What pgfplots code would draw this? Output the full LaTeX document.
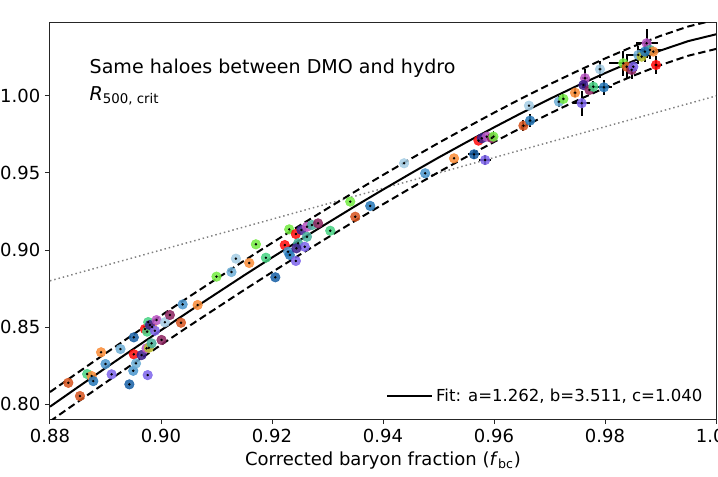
\documentclass[border=0pt]{standalone}
\usepackage{fontspec}
\setmainfont{DejaVu Sans}
\usepackage{pgfplots}
\usepackage{pgfplotstable}
\pgfplotsset{compat=1.18}

\definecolor{cdor}{RGB}{214,84,30}
\definecolor{cor}{RGB}{250,140,55}
\definecolor{cmint}{RGB}{70,210,130}
\definecolor{cblue}{RGB}{38,120,185}
\definecolor{cmbl}{RGB}{75,150,205}
\definecolor{clbl}{RGB}{110,175,215}
\definecolor{cpbl}{RGB}{165,205,228}
\definecolor{cdbl}{RGB}{22,95,165}
\definecolor{cpur}{RGB}{125,100,235}
\definecolor{cind}{RGB}{60,30,140}
\definecolor{cred}{RGB}{255,10,10}
\definecolor{cmag}{RGB}{185,85,195}
\definecolor{cmar}{RGB}{140,35,95}
\definecolor{cteal}{RGB}{70,175,155}
\definecolor{clime}{RGB}{115,235,65}
\definecolor{colv}{RGB}{185,190,45}

% haloes: corrected baryon fraction, radius ratio, errors, colour class
\pgfplotstableread{
x y ex ey c
0.8833 0.8138 0 0 dor
0.8854 0.8052 0 0 dor
0.8867 0.8195 0 0 mint
0.8875 0.8182 0 0 or
0.8878 0.8149 0 0 blue
0.8892 0.8336 0 0 or
0.8900 0.8260 0 0 mbl
0.8911 0.8193 0 0 pur
0.8927 0.8357 0 0 lbl
0.8943 0.8128 0 0 dbl
0.8950 0.8216 0 0 mbl
0.8951 0.8433 0 0 dbl
0.8951 0.8323 0 0 red
0.8955 0.8264 0 0 lbl
0.8965 0.8318 0 0 ind
0.8974 0.8362 0 0 mag
0.8976 0.8188 0 0 pur
0.8971 0.8487 0 0 red
0.8977 0.8532 0 0 mint
0.8984 0.8500 0 0 or
0.8978 0.8365 0 0 olv
0.8975 0.8470 0 0 mint
0.8980 0.8513 0 0 ind
0.8983 0.8394 0 0 teal
0.8989 0.8476 0 0 pur
0.8992 0.8545 0 0 mag
0.9001 0.8416 0 0 mar
0.9007 0.8531 0 0 pbl
0.9016 0.8578 0 0 mar
0.9039 0.8647 0 0 mbl
0.9066 0.8643 0 0 or
0.9036 0.8528 0 0 dor
0.9100 0.8827 0 0 lime
0.9127 0.8857 0 0 lbl
0.9135 0.8944 0 0 pbl
0.9159 0.8916 0 0 or
0.9171 0.9037 0 0 lime
0.9189 0.8950 0 0 mint
0.9206 0.8823 0 0 dbl
0.9223 0.9032 0 0 red
0.9231 0.9134 0 0 lime
0.9229 0.8989 0 0 mbl
0.9232 0.8968 0 0 blue
0.9243 0.9104 0 0 red
0.9243 0.8929 0 0 pur
0.9247 0.9044 0 0 teal
0.9253 0.9130 0 0 ind
0.9259 0.9021 0 0 pur
0.9244 0.9011 0 0 ind
0.9263 0.9086 0 0 teal
0.9263 0.9151 0 0 mag
0.9272 0.9162 0 0 teal
0.9283 0.9173 0 0 mar
0.9305 0.9125 0 0 mint
0.9341 0.9314 0 0 lime
0.9377 0.9286 0 0 blue
0.9350 0.9216 0 0 dor
0.9438 0.9563 0 0 pbl
0.9476 0.9498 0 0 mbl
0.9528 0.9595 0 0 or
0.9564 0.9621 0.0010 0.0030 dbl
0.9584 0.9584 0.0011 0.0030 pur
0.9572 0.9710 0 0 red
0.9578 0.9725 0 0 ind
0.9587 0.9736 0 0 mag
0.9596 0.9727 0 0 mar
0.9599 0.9736 0.0003 0.0035 lime
0.9653 0.9807 0.0004 0.0035 dor
0.9665 0.9840 0.0004 0.0040 blue
0.9663 0.9937 0 0 pbl
0.9717 0.9963 0.0003 0.0035 lbl
0.9725 0.9981 0.0003 0.0030 lime
0.9746 1.0021 0.0003 0.0030 or
0.9758 0.9953 0.0015 0.0080 pur
0.9764 1.0115 0.0005 0.0060 mag
0.9761 1.0071 0 0 ind
0.9772 1.0039 0 0 mar
0.9779 1.0060 0.0020 0.0040 mint
0.9791 1.0173 0.0004 0.0055 pbl
0.9798 1.0056 0.0015 0.0050 blue
0.9833 1.0212 0.0025 0.0080 lime
0.9839 1.0190 0.0010 0.0080 dor
0.9848 1.0169 0.0010 0.0060 mar
0.9851 1.0190 0 0 pur
0.9860 1.0266 0.0020 0.0060 lbl
0.9866 1.0255 0 0 olv
0.9875 1.0342 0.0020 0.0095 mag
0.9881 1.0299 0.0020 0.0060 teal
0.9887 1.0288 0 0 or
0.9892 1.0201 0.0003 0.0060 red
0.9872 1.0288 0.0015 0.0070 blue
}\halos

% fit curve with its upper and lower band
\pgfplotstableread{
x fit up lo
0.880 0.7983 0.8078 0.7888
0.885 0.8109 0.8204 0.8014
0.890 0.8234 0.8329 0.8139
0.895 0.8357 0.8452 0.8262
0.900 0.8479 0.8574 0.8384
0.905 0.8600 0.8695 0.8505
0.910 0.8718 0.8813 0.8623
0.915 0.8836 0.8931 0.8741
0.920 0.8951 0.9046 0.8856
0.925 0.9064 0.9159 0.8969
0.930 0.9175 0.9270 0.9080
0.935 0.9285 0.9380 0.9190
0.940 0.9392 0.9487 0.9297
0.945 0.9497 0.9592 0.9402
0.950 0.9600 0.9695 0.9505
0.955 0.9699 0.9794 0.9604
0.960 0.9796 0.9891 0.9701
0.965 0.9890 0.9985 0.9795
0.970 0.9980 1.0075 0.9885
0.975 1.0066 1.0161 0.9971
0.980 1.0148 1.0243 1.0053
0.985 1.0225 1.0320 1.0130
0.990 1.0295 1.0390 1.0200
0.995 1.0356 1.0451 1.0261
1.000 1.0400 1.0495 1.0305
}\fitcurve

\begin{document}
\begin{tikzpicture}
\begin{axis}[
  scale only axis,
  width=499.5pt, height=297.75pt,
  xmin=0.88, xmax=1.0, ymin=0.7903, ymax=1.048,
  xtick={0.88,0.90,0.92,0.94,0.96,0.98,1.00},
  ytick={0.80,0.85,0.90,0.95,1.00,1.05},
  xticklabel style={/pgf/number format/fixed, /pgf/number format/fixed zerofill, /pgf/number format/precision=2},
  yticklabel style={/pgf/number format/fixed, /pgf/number format/fixed zerofill, /pgf/number format/precision=2},
  /pgf/number format/assume math mode=true,
  tick label style={font=\fontsize{13.5}{16}\selectfont},
  label style={font=\fontsize{13.5}{16}\selectfont},
  tick align=outside, tick pos=left,
  major tick length=3.75pt,
  axis line style={line width=0.75pt, black!85},
  every tick/.style={line width=0.75pt, black!85},
  xlabel={Corrected baryon fraction (\textit{f}\textsubscript{bc})},
  legend cell align=left,
  legend style={at={(rel axis cs:0.99,0.025)}, anchor=south east, draw=none, fill=none,
    font=\fontsize{12.4}{15}\selectfont},
  legend image code/.code={\draw[#1] (0pt,0pt) -- (34pt,0pt);},
]
\addplot[gray, line width=1.1pt, dash pattern=on 1.1pt off 2.2pt, forget plot]
  coordinates {(0.88,0.88) (1.0,1.0)};

\addplot[scatter, only marks, mark size=3.6pt, forget plot,
  scatter src=explicit symbolic,
  scatter/classes={
    dor={mark=*,cdor,opacity=0.85},
    or={mark=*,cor,opacity=0.85},
    mint={mark=*,cmint,opacity=0.85},
    blue={mark=*,cblue,opacity=0.85},
    mbl={mark=*,cmbl,opacity=0.85},
    lbl={mark=*,clbl,opacity=0.85},
    pbl={mark=*,cpbl,opacity=0.85},
    dbl={mark=*,cdbl,opacity=0.85},
    pur={mark=*,cpur,opacity=0.85},
    ind={mark=*,cind,opacity=0.85},
    red={mark=*,cred,opacity=0.85},
    mag={mark=*,cmag,opacity=0.85},
    mar={mark=*,cmar,opacity=0.85},
    teal={mark=*,cteal,opacity=0.85},
    lime={mark=*,clime,opacity=0.85},
    olv={mark=*,colv,opacity=0.85}}]
  table[x=x, y=y, meta=c] {\halos};

\addplot[only marks, mark=*, mark size=0.7pt, black, forget plot,
  error bars/.cd, x dir=both, x explicit, y dir=both, y explicit,
  error mark=none, error bar style={line width=1.4pt, black}]
  table[x=x, y=y, x error=ex, y error=ey] {\halos};

\addplot[black, line width=1.5pt] table[x=x, y=fit] {\fitcurve};
\addlegendentry{Fit: a=1.262, b=3.511, c=1.040}
\addplot[black, line width=1.5pt, dash pattern=on 5.5pt off 3pt, forget plot] table[x=x, y=up] {\fitcurve};
\addplot[black, line width=1.5pt, dash pattern=on 5.5pt off 3pt, forget plot] table[x=x, y=lo] {\fitcurve};

\node[anchor=base west, font=\fontsize{14.3}{17}\selectfont] at (rel axis cs:0.0525,0.8715)
  {Same haloes between DMO and hydro};
\node[anchor=base west, font=\fontsize{14.3}{17}\selectfont] at (rel axis cs:0.0525,0.8035)
  {\textit{R}\textsubscript{500, crit}};
\end{axis}
\pgfresetboundingbox
\path[use as bounding box] ([shift={(-37.5pt,-42.75pt)}]current axis.south west)
  rectangle ([shift={(1.5pt,16.5pt)}]current axis.north east);
\end{tikzpicture}
\end{document}
